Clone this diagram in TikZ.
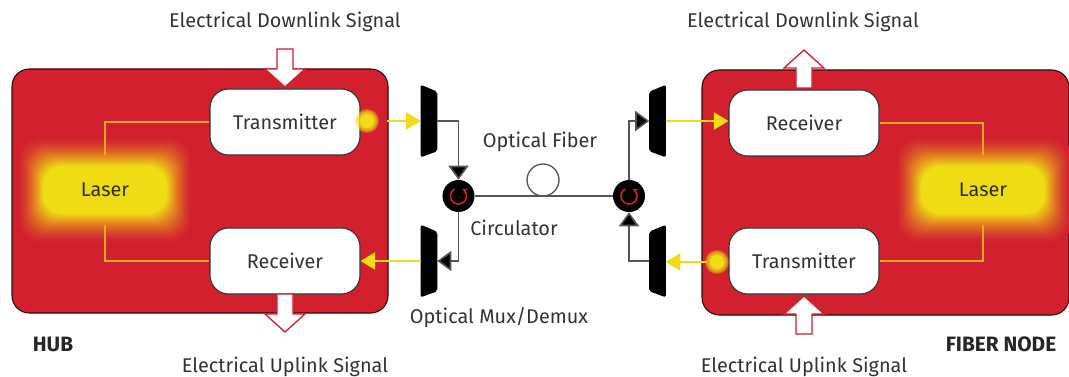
\documentclass[tikz,border=0pt]{standalone}
\usepackage{fontspec}
\setmainfont{Fira Sans}
\usetikzlibrary{shapes.geometric,arrows.meta,calc}
\definecolor{hubred}{HTML}{D2202F}
\definecolor{lasery}{HTML}{F0DC14}
\definecolor{wire}{HTML}{F7A823}
\definecolor{ink}{HTML}{333333}
\definecolor{cable}{HTML}{555555}
\tikzset{
  panel/.style={fill=hubred,draw=black!75!hubred,line width=.8pt,rounded corners=13pt},
  unitbox/.style={draw=black!80,line width=.8pt,fill=white,rounded corners=14pt,minimum width=112.5pt,minimum height=49.5pt,text=ink,font=\fontsize{14.9}{17}\selectfont,inner sep=0pt},
  laserbox/.style={minimum width=108pt,minimum height=52pt,text=black!80!lasery,font=\fontsize{14.9}{17}\selectfont,inner sep=0pt},
  label/.style={text=ink,font=\fontsize{14.9}{17}\selectfont,inner sep=0pt},
  boldlabel/.style={text=black!85,font=\fontsize{15.6}{18}\selectfont\bfseries,inner sep=0pt},
  wireline/.style={draw=wire,line width=.9pt},
  beam/.style={draw=lasery,line width=1.1pt,-{Triangle[length=11pt,width=13pt,fill=lasery]}},
  cableline/.style={draw=cable,line width=1.2pt},
  cablearrow/.style={cableline,-{Triangle[length=10.5pt,width=15pt,fill=black]}},
  muxslot/.style={rectangle,minimum width=12pt,minimum height=54pt,inner sep=0pt},
  muxbody/.style={fill=black,rounded corners=1.5pt},
  circ/.style={circle,fill=black,minimum size=24pt,inner sep=0pt},
  loopnode/.style={circle,draw=cable,line width=1pt,fill=white,minimum size=24pt,inner sep=0pt},
  blockarrow/.pic={\path[fill=white,draw=hubred,line width=1pt,line join=miter]
     (0,0)--(-20,-18)--(-8,-18)--(-8,-38)--(8,-38)--(8,-18)--(20,-18)--cycle;},
}
\newcommand{\glowbox}[2]{%
  \foreach \i in {0,...,30}{%
    \pgfmathsetmacro{\hw}{88-0.87*\i}%
    \pgfmathsetmacro{\hh}{54-1.0*\i}%
    \pgfmathsetmacro{\mixv}{100*(\i/30)^1.5}%
    \fill[lasery!\mixv!hubred,rounded corners=15pt] (#1-\hw,#2-\hh) rectangle (#1+\hw,#2+\hh);
  }%
}
\newcommand{\glowdot}[2]{%
  \foreach \r in {12,11,10,9,8}{\fill[lasery,opacity=.3] (#1,#2) circle[radius=\r];}%
  \fill[lasery] (#1,#2) circle[radius=7];
}
\newcommand{\circarrow}[2]{%
  \draw[hubred,line width=1.2pt,-{Stealth[length=3.5pt,width=4pt]}] ($(#1,#2)+(-4,-6.9)$) arc[start angle=-120,end angle=-420,radius=8];
}
\newcommand{\muxwl}[1]{\fill[muxbody] (#1.north west)--($(#1.north east)+(0,7)$)--($(#1.south east)+(0,-6)$)--(#1.south west)--cycle;}
\newcommand{\muxwr}[1]{\fill[muxbody] (#1.north east)--($(#1.north west)+(0,7)$)--($(#1.south west)+(0,-6)$)--(#1.south east)--cycle;}
\begin{document}
\begin{tikzpicture}[x=.75pt,y=-.75pt]
\useasboundingbox (0,0) rectangle (1069,377);
\fill[white] (0,0) rectangle (1069,377);
% panels
\path[panel] (12,69) rectangle (388,313);
\path[panel] (702,70) rectangle (1069,315);
\glowbox{105}{190}
\glowbox{983}{190}
% nodes
\node[laserbox] (hublaser) at (105,190) {Laser};
\node[laserbox] (fnlaser) at (983,190) {Laser};
\node[unitbox] (hubtx) at (285,122) {Transmitter};
\node[unitbox] (hubrx) at (285,261) {Receiver};
\node[unitbox] (fnrx) at (804,123) {Receiver};
\node[unitbox] (fntx) at (804,261) {Transmitter};
% laser wires
\draw[wireline] (hublaser.north) |- (hubtx.west);
\draw[wireline] (hublaser.south) |- (hubrx.west);
\draw[wireline] (fnlaser.north) |- (fnrx.east);
\draw[wireline] (fnlaser.south) |- (fntx.east);
% block arrows
\pic at (285,87) {blockarrow};
\pic at (285,332) {blockarrow};
\pic[rotate=180] at (804,50) {blockarrow};
\pic[rotate=180] at (804,296) {blockarrow};
% mux
\node[muxslot] (mux1) at (429,121) {};
\node[muxslot] (mux2) at (429,261) {};
\node[muxslot] (mux3) at (657.5,121) {};
\node[muxslot] (mux4) at (657.5,261) {};
\muxwl{mux1}\muxwl{mux2}\muxwr{mux3}\muxwr{mux4}
% circulators and fibre
\node[loopnode] (fibre) at (543,180) {};
\node[circ] (circa) at (458.5,196) {};
\node[circ] (circb) at (629,196) {};
\circarrow{458.5}{196}
\circarrow{629}{196}
\draw[cableline] (circa) -- (circb);
\draw[cablearrow] (mux1.east) -| (circa.north);
\draw[cablearrow] (circa.south) |- (mux2.east);
\draw[cablearrow] (circb.north) |- (mux3.west);
\draw[cablearrow] (mux4.west) -| (circb.south);
% light
\coordinate (hubout) at (367,121);
\coordinate (fnout) at (717,262);
\draw[beam] (hubout) ++(20,0) -- (mux1.west);
\draw[beam] (mux2.west) -- (hubrx.east);
\draw[beam] (mux3.east) -- (fnrx.west |- mux3.east);
\draw[beam] (fnout) ++(-10,0) -- (mux4.east |- fnout);
\glowdot{367}{121}
\glowdot{717}{262}
% labels
\node[label] (l1) at (285,22) {Electrical Downlink Signal};
\node[label] (l2) at (803,22) {Electrical Downlink Signal};
\node[label] (l3) at (540,142) {Optical Fiber};
\node[label] (l4) at (514,228) {Circulator};
\node[label] (l5) at (499,318) {Optical Mux/Demux};
\node[boldlabel] (l6) at (53,344) {HUB};
\node[boldlabel] (l7) at (1001,344) {FIBER NODE};
\node[label] (l8) at (285,367) {Electrical Uplink Signal};
\node[label] (l9) at (804,367) {Electrical Uplink Signal};
\end{tikzpicture}
\end{document}
